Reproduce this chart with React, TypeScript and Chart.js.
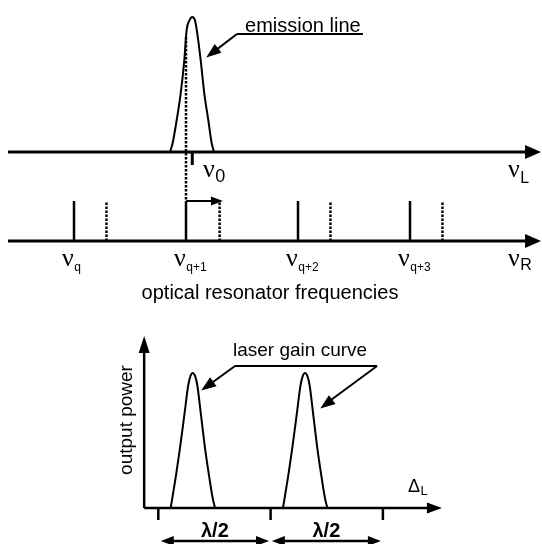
import { useEffect, useRef } from 'react';
import { Chart, registerables } from 'chart.js';

Chart.register(...registerables);

const W = 542;
const H = 544;

// ---- data (diagram units) ----
// top panel: emission line, frequency in units of the resonator mode spacing (mode q = 0)
const emissionFreq = [0.857, 0.881, 0.917, 0.953, 0.985, 1.006, 1.031, 1.056, 1.080, 1.096, 1.131, 1.163, 1.199, 1.229, 1.250];
const emissionIntensity = [0, 0.067, 0.237, 0.437, 0.681, 0.904, 0.975, 1, 0.975, 0.904, 0.681, 0.437, 0.237, 0.067, 0];
const nu0Freq = 1.056;

// middle panel: optical resonator frequencies
const modeFreqs = [0, 1, 2, 3];
const modeSubscripts = ['q', 'q+1', 'q+2', 'q+3'];
const shiftedModeFreqs = [0.29, 1.3, 2.29, 3.29];
const modeHeight = 1;
const shiftedModeHeight = 0.97;
const shiftFrom = 1;
const shiftTo = 1.321;

// bottom panel: laser gain curve (output power vs detuning, ticks in units of lambda/2)
const gainDeltaA = [0.110, 0.125, 0.158, 0.193, 0.232, 0.267, 0.287, 0.306, 0.327, 0.347, 0.380, 0.416, 0.451, 0.484, 0.505];
const gainPowerA = [0, 0.074, 0.244, 0.444, 0.689, 0.911, 0.978, 1, 0.978, 0.911, 0.689, 0.444, 0.244, 0.074, 0];
const gainDeltaB = [1.110, 1.125, 1.158, 1.193, 1.232, 1.267, 1.287, 1.306, 1.327, 1.347, 1.380, 1.416, 1.451, 1.484, 1.505];
const gainPowerB = [0, 0.074, 0.244, 0.444, 0.689, 0.911, 0.978, 1, 0.978, 0.911, 0.689, 0.444, 0.244, 0.074, 0];
const deltaTicks = [0, 1, 2];
const halfWaveSpans = [[0.031, 0.977], [1.02, 1.973]];
const halfWaveLabel = 'λ/2';

// ---- layout: where each scale sits on the canvas ----
const LAYOUT: Record<string, { px: number; at: number; per: number }> = {
  xF: { px: 186, at: 1, per: 112 },
  yL: { px: 152, at: 0, per: 135 },
  yR: { px: 241, at: 0, per: 40 },
  xD: { px: 158.3, at: 0, per: 112.3 },
  yP: { px: 508, at: 0, per: 135 },
};
const xRange = (id: string) => {
  const l = LAYOUT[id];
  return { min: l.at - l.px / l.per, max: l.at + (W - l.px) / l.per };
};
const yRange = (id: string) => {
  const l = LAYOUT[id];
  return { min: l.at - (H - l.px) / l.per, max: l.at + l.px / l.per };
};

const FREQ_AXIS = [-0.589, 4.161];
const DELTA_AXIS = [-0.126, 2.517];
const POWER_AXIS_TOP = 1.267;

const SANS = '"Liberation Sans", Arial, sans-serif';
const SERIF = '"Liberation Serif", "Times New Roman", serif';

type P = { x: number; y: number };
const zip = (xs: number[], ys: number[]): P[] => xs.map((x, i) => ({ x, y: ys[i] }));

function seg(data: P[], xAxisID: string, yAxisID: string, width: number, extra: any = {}) {
  return {
    data,
    xAxisID,
    yAxisID,
    showLine: true,
    pointRadius: 0,
    pointHoverRadius: 0,
    borderColor: '#000',
    backgroundColor: '#000',
    borderWidth: width,
    fill: false,
    tension: 0,
    clip: false as any,
    ...extra,
  };
}

const DOT = { borderDash: [2.5, 1.5] };

// arrows: [xId, yId, from, tip, len, halfWidth]
const arrowHeads: [string, string, P, P, number, number][] = [
  ['xF', 'yL', { x: 3.9, y: 0 }, { x: FREQ_AXIS[1], y: 0 }, 15, 7],
  ['xF', 'yR', { x: 3.9, y: 0 }, { x: FREQ_AXIS[1], y: 0 }, 15, 7],
  ['xF', 'yR', { x: shiftFrom, y: modeHeight }, { x: shiftTo, y: modeHeight }, 11, 4.5],
  ['xF', 'yL', { x: 1.455, y: 0.874 }, { x: 1.1875, y: 0.704 }, 14, 5.5],
  ['xD', 'yP', { x: DELTA_AXIS[0], y: 0 }, { x: DELTA_AXIS[0], y: POWER_AXIS_TOP }, 16, 5.5],
  ['xD', 'yP', { x: DELTA_AXIS[0], y: 0 }, { x: DELTA_AXIS[1], y: 0 }, 14, 5.5],
  ['xD', 'yP', { x: 0.683, y: 1.052 }, { x: 0.389, y: 0.874 }, 14, 5.5],
  ['xD', 'yP', { x: 1.948, y: 1.052 }, { x: 1.449, y: 0.741 }, 14, 5.5],
];
halfWaveSpans.forEach(([a, b]) => {
  arrowHeads.push(['xD', 'yP', { x: b, y: -0.244 }, { x: a, y: -0.244 }, 12, 5]);
  arrowHeads.push(['xD', 'yP', { x: a, y: -0.244 }, { x: b, y: -0.244 }, 12, 5]);
});

const overlay = {
  id: 'overlay',
  afterDatasetsDraw(chart: any) {
    const ctx: CanvasRenderingContext2D = chart.ctx;
    const px = (id: string, v: number) => chart.scales[id].getPixelForValue(v);
    ctx.save();
    ctx.fillStyle = '#000';
    // arrow heads
    arrowHeads.forEach(([xi, yi, f, t, len, hw]) => {
      const x1 = px(xi, f.x), y1 = px(yi, f.y), x2 = px(xi, t.x), y2 = px(yi, t.y);
      const d = Math.hypot(x2 - x1, y2 - y1) || 1;
      const ux = (x2 - x1) / d, uy = (y2 - y1) / d;
      const bx = x2 - ux * len, by = y2 - uy * len;
      ctx.beginPath();
      ctx.moveTo(x2 + ux * 1, y2 + uy * 1);
      ctx.lineTo(bx - uy * hw, by + ux * hw);
      ctx.lineTo(bx + uy * hw, by - ux * hw);
      ctx.closePath();
      ctx.fill();
    });

    ctx.textBaseline = 'alphabetic';
    const nu = (x: number, y: number, sub: string, subFont: string, dy: number) => {
      ctx.font = `26px ${SERIF}`;
      ctx.textAlign = 'left';
      ctx.fillText('ν', x, y);
      const w = ctx.measureText('ν').width;
      ctx.font = subFont;
      ctx.fillText(sub, x + w + 0.5, y + dy);
    };
    // top panel labels
    ctx.font = `20px ${SANS}`;
    ctx.textAlign = 'left';
    ctx.fillText('emission line', px('xF', 1.527), px('yL', 0.889));
    nu(px('xF', 1.152), px('yL', -0.185), '0', `18px ${SANS}`, 5);
    nu(px('xF', 3.875), px('yL', -0.185), 'L', `16px ${SANS}`, 6);
    // middle panel labels
    modeFreqs.forEach((f, i) => {
      nu(px('xF', f - 0.107), px('yR', -0.625), modeSubscripts[i], `12px ${SANS}`, 5);
    });
    nu(px('xF', 3.875), px('yR', -0.625), 'R', `16px ${SANS}`, 4);
    ctx.font = `20px ${SANS}`;
    ctx.textAlign = 'center';
    ctx.fillText('optical resonator frequencies', px('xF', 1.75), px('yR', -1.45));
    // bottom panel labels
    ctx.font = `19px ${SANS}`;
    ctx.textAlign = 'left';
    ctx.fillText('laser gain curve', px('xD', 0.665), px('yP', 1.126));
    ctx.save();
    ctx.translate(px('xD', -0.279), px('yP', 0.652));
    ctx.rotate(-Math.PI / 2);
    ctx.textAlign = 'center';
    ctx.textBaseline = 'middle';
    ctx.fillText('output power', 0, 0);
    ctx.restore();
    ctx.font = `18px ${SANS}`;
    ctx.textAlign = 'left';
    const dx = px('xD', 2.223), dy = px('yP', 0.1185);
    ctx.fillText('Δ', dx, dy);
    const dw = ctx.measureText('Δ').width;
    ctx.font = `13px ${SANS}`;
    ctx.fillText('L', dx + dw + 0.5, dy + 3);
    ctx.font = `bold 20px ${SANS}`;
    ctx.textAlign = 'center';
    halfWaveSpans.forEach(([a, b]) => {
      ctx.fillText(halfWaveLabel, px('xD', (a + b) / 2), px('yP', -0.215));
    });
    ctx.restore();
  },
};

export default function App() {
  const ref = useRef<HTMLCanvasElement>(null);
  useEffect(() => {
    if (!ref.current) return;
    const datasets: any[] = [];
    // top panel
    datasets.push(seg([{ x: FREQ_AXIS[0], y: 0 }, { x: FREQ_AXIS[1] - 0.05, y: 0 }], 'xF', 'yL', 3));
    datasets.push(seg(zip(emissionFreq, emissionIntensity), 'xF', 'yL', 2, { cubicInterpolationMode: 'monotone' }));
    datasets.push(seg([{ x: nu0Freq, y: 0 }, { x: nu0Freq, y: -0.096 }], 'xF', 'yL', 3));
    datasets.push(seg([{ x: shiftFrom, y: 0.852 }, { x: shiftFrom, y: -0.363 }], 'xF', 'yL', 2.5, DOT));
    datasets.push(seg([{ x: 1.455, y: 0.874 }, { x: 2.58, y: 0.874 }], 'xF', 'yL', 2));
    datasets.push(seg([{ x: 1.455, y: 0.874 }, { x: 1.22, y: 0.725 }], 'xF', 'yL', 2));
    // middle panel
    datasets.push(seg([{ x: FREQ_AXIS[0], y: 0 }, { x: FREQ_AXIS[1] - 0.05, y: 0 }], 'xF', 'yR', 3));
    modeFreqs.forEach((f) => {
      datasets.push(seg([{ x: f, y: 0 }, { x: f, y: modeHeight }], 'xF', 'yR', 2.5));
    });
    shiftedModeFreqs.forEach((f) => {
      datasets.push(seg([{ x: f, y: 0 }, { x: f, y: shiftedModeHeight }], 'xF', 'yR', 2.5, DOT));
    });
    datasets.push(seg([{ x: shiftFrom, y: modeHeight }, { x: shiftTo - 0.05, y: modeHeight }], 'xF', 'yR', 2));
    // bottom panel
    datasets.push(seg([{ x: DELTA_AXIS[0], y: 0 }, { x: DELTA_AXIS[1] - 0.05, y: 0 }], 'xD', 'yP', 2.5));
    datasets.push(seg([{ x: DELTA_AXIS[0], y: 0 }, { x: DELTA_AXIS[0], y: POWER_AXIS_TOP - 0.05 }], 'xD', 'yP', 2.5));
    deltaTicks.forEach((d) => {
      datasets.push(seg([{ x: d, y: 0 }, { x: d, y: -0.089 }], 'xD', 'yP', 2.5));
    });
    datasets.push(seg(zip(gainDeltaA, gainPowerA), 'xD', 'yP', 2, { cubicInterpolationMode: 'monotone' }));
    datasets.push(seg(zip(gainDeltaB, gainPowerB), 'xD', 'yP', 2, { cubicInterpolationMode: 'monotone' }));
    datasets.push(seg([{ x: 0.683, y: 1.052 }, { x: 1.948, y: 1.052 }], 'xD', 'yP', 2));
    datasets.push(seg([{ x: 0.683, y: 1.052 }, { x: 0.42, y: 0.893 }], 'xD', 'yP', 2));
    datasets.push(seg([{ x: 1.948, y: 1.052 }, { x: 1.48, y: 0.765 }], 'xD', 'yP', 2));
    halfWaveSpans.forEach(([a, b]) => {
      datasets.push(seg([{ x: a + 0.05, y: -0.244 }, { x: b - 0.05, y: -0.244 }], 'xD', 'yP', 2.5));
    });

    const hidden = (r: { min: number; max: number }) => ({ type: 'linear' as const, display: false, ...r });
    const chart = new Chart(ref.current, {
      type: 'scatter',
      data: { datasets },
      options: {
        animation: false,
        responsive: false,
        devicePixelRatio: 1,
        layout: { padding: 0 },
        events: [],
        plugins: { legend: { display: false }, tooltip: { enabled: false } },
        scales: {
          x: hidden({ min: 0, max: 1 }),
          y: hidden({ min: 0, max: 1 }),
          xF: { ...hidden(xRange('xF')), axis: 'x' },
          xD: { ...hidden(xRange('xD')), axis: 'x' },
          yL: { ...hidden(yRange('yL')), axis: 'y' },
          yR: { ...hidden(yRange('yR')), axis: 'y' },
          yP: { ...hidden(yRange('yP')), axis: 'y' },
        } as any,
      },
      plugins: [overlay],
    });
    return () => chart.destroy();
  }, []);
  return (
    <div style={{ position: 'fixed', left: 0, top: 0, width: W, height: H, background: '#fff' }}>
      <canvas ref={ref} width={W} height={H} style={{ display: 'block' }} />
    </div>
  );
}
